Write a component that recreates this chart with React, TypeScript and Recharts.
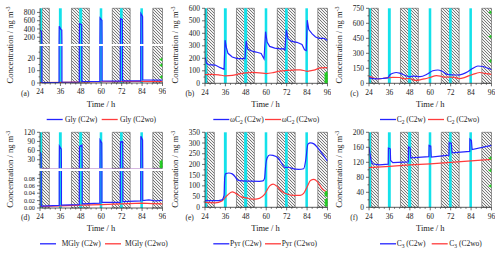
import React from 'react';
import { ComposedChart, Line, XAxis, YAxis, ReferenceArea, Scatter } from 'recharts';

type Pt = [number, number];

// ---------- data ----------
const X_TICKS = [24, 27, 30, 33, 36, 39, 42, 45, 48, 51, 54, 57, 60, 63, 66, 69, 72, 75, 78, 81, 84, 87, 90, 93, 96];
const X_MAJOR = [24, 36, 48, 60, 72, 84, 96];
const NIGHT: Pt[] = [[25.2, 29.5], [42.5, 53], [66.5, 77], [90.3, 96]];
const LIGHT: Pt[] = [[24, 25.2], [35.1, 36.8], [47, 48.8], [59.1, 60.6], [71, 72.6], [83, 84.5]];

const GLY_C2W: Pt[] = [[24, 370], [24.9, 340], [25.1, 0.4], [35.2, 0.5], [35.3, 465], [36.3, 385], [36.8, 375], [36.9, 0.6], [47.1, 0.8], [47.2, 530], [48.5, 505], [48.6, 1.2], [59.2, 1.3], [59.3, 665], [60.4, 605], [60.5, 1.6], [71.2, 1.5], [71.3, 650], [72.4, 625], [72.5, 1.8], [83.2, 1.8], [83.3, 775], [84.3, 700], [84.4, 2.6], [96, 2.4]];
const GLY_C2WO: Pt[] = [[24, 0.3], [36, 0.5], [48, 0.8], [60, 1.0], [72, 1.2], [84, 1.3], [96, 1.2]];

const WC2_C2W: Pt[] = [[24, 208], [25, 160], [26, 150], [30, 146], [33, 125], [35.2, 112], [35.8, 345], [36.5, 290], [37.5, 240], [40, 210], [43, 198], [47.5, 197], [48.2, 340], [49, 275], [51, 260], [54, 250], [57, 238], [58.7, 195], [59.6, 413], [60.5, 330], [62, 295], [65, 282], [68, 276], [70, 278], [71, 267], [71.8, 428], [72.8, 355], [75, 335], [78, 328], [81, 310], [82.5, 268], [83.5, 262], [84.1, 505], [85, 430], [87, 395], [89, 370], [91, 360], [94, 360], [96, 342]];
const WC2_C2WO: Pt[] = [[24, 70], [28, 72], [32, 68], [36, 60], [40, 63], [44, 75], [48, 83], [52, 87], [56, 84], [60, 78], [64, 85], [68, 98], [72, 103], [76, 106], [80, 108], [84, 96], [88, 105], [92, 123], [96, 125]];

const C2_C2W: Pt[] = [[24, 55], [28, 45], [32, 48], [35, 55], [36.5, 88], [38, 100], [40, 108], [42, 102], [45, 80], [48, 65], [50, 72], [54, 67], [58, 90], [61.5, 125], [64.5, 133], [67, 120], [70, 90], [73, 85], [76, 83], [79, 92], [82, 115], [85, 150], [88, 173], [91, 168], [94, 150], [96, 135]];
const C2_C2WO: Pt[] = [[24, 72], [26, 55], [30, 45], [34, 55], [38, 60], [42, 58], [45, 45], [48, 48], [51, 30], [54, 35], [56.7, 45], [60, 60], [63.6, 77], [66, 72], [68, 62], [71, 63], [74, 60], [77, 47], [80, 57], [83, 77], [87, 100], [89, 108], [92, 100], [96, 90]];

const MGLY_C2W: Pt[] = [[24, 55], [24.6, 50], [24.7, 0.005], [35.3, 0.007], [35.4, 75], [36.5, 65], [36.6, 0.008], [47.1, 0.009], [47.2, 73], [48.7, 78], [48.8, 0.011], [59.2, 0.013], [59.3, 95], [60.3, 85], [60.4, 0.015], [71.2, 0.015], [71.3, 88], [72.6, 90], [72.7, 0.017], [83.2, 0.019], [83.3, 107], [84.3, 95], [84.4, 0.02], [88, 0.022], [92, 0.019], [96, 0.021]];
const MGLY_C2WO: Pt[] = [[24, 0.004], [36, 0.006], [48, 0.008], [60, 0.009], [72, 0.011], [84, 0.013], [90, 0.012], [96, 0.011]];

const PYR_C2W: Pt[] = [[24, 31], [30, 31], [34, 35], [35.2, 55], [35.6, 140], [36.2, 157], [38, 160], [40, 156], [42, 140], [43, 128], [46, 123], [50, 122], [56, 121], [58, 123], [59, 135], [59.6, 190], [60.5, 230], [62, 244], [64, 242], [67, 230], [69.5, 200], [71, 186], [73, 187], [75, 182], [79, 177], [82, 180], [83.2, 220], [84.5, 295], [86, 301], [88, 296], [90, 280], [92, 260], [96, 215]];
const PYR_C2WO: Pt[] = [[24, 23], [30, 21], [34, 30], [37, 55], [40, 72], [42, 65], [45, 50], [48, 44], [52, 38], [56, 42], [59, 60], [62, 100], [64, 108], [66, 100], [69, 75], [72, 62], [76, 56], [80, 56], [82, 65], [84, 95], [86, 125], [88, 130], [90, 120], [93, 85], [96, 70]];

const C3_C2W: Pt[] = [[24, 160], [24.5, 145], [25.2, 125], [26, 116], [30, 113], [35.3, 115], [35.4, 158], [36.5, 156], [36.7, 125], [38, 119], [47.1, 121], [47.2, 161], [48.2, 158], [48.5, 132], [59.2, 135], [59.3, 165], [60.3, 163], [60.6, 134], [71, 139], [71.1, 172], [72.4, 171], [72.8, 145], [83.2, 149], [83.3, 182], [84.2, 178], [84.6, 154], [96, 165]];
const C3_C2WO: Pt[] = [[24, 106], [36, 109], [48, 113], [60, 116], [72, 120], [84, 124], [96, 128]];

const OBS_A = [4.9, 14.3, 19];
const OBS_B = [5, 12, 19, 26, 33, 40, 47, 54, 61, 68, 75, 80];
const OBS_C = [223, 467, 710];
const OBS_D = [4, 8, 12, 16, 20, 24];
const OBS_E = [10, 15, 20, 25, 30, 35, 55, 60, 65, 70];
const OBS_F = [57, 98, 131];

// legend labels: [prefix, subscript, suffix]
const LEGENDS: [string, string, string][][] = [
  [['Gly (C2w)', '', ''], ['Gly (C2wo)', '', '']],
  [['ωC', '2', ' (C2w)'], ['ωC', '2', ' (C2wo)']],
  [['C', '2', ' (C2w)'], ['C', '2', ' (C2wo)']],
  [['MGly (C2w)', '', ''], ['MGly (C2wo)', '', '']],
  [['Pyr (C2w)', '', ''], ['Pyr (C2wo)', '', '']],
  [['C', '3', ' (C2w)'], ['C', '3', ' (C2wo)']],
];
const TAGS = ['(a)', '(b)', '(c)', '(d)', '(e)', '(f)'];

// ---------- style ----------
const FONT = '"Liberation Serif", "Times New Roman", serif';
const BLUE = '#2424ff';
const RED = '#ff3c3c';
const CYAN = '#14e1ea';
const GREEN = '#22cc22';
const AX = '#333';
const XM = 6;
const YM = 5;
// legend layout offsets relative to panel left: [blueLine, blueText, redLine, redText]
const LEG_POS = [
  [46.7, 65, 101.7, 120],
  [48.8, 65.5, 100.5, 117.2],
  [50.7, 67.4, 98.7, 117.4],
  [40, 61.7, 105, 125],
  [48.8, 65.5, 100.5, 117.2],
  [50.7, 67.4, 102.4, 120],
];

const toXY = (pts: Pt[]) => pts.map(([x, y]) => ({ x, y }));

const XTick = (p: any) => {
  const v = p.payload.value;
  const maj = X_MAJOR.includes(v);
  const ay = p.y - XM;
  return (
    <g>
      <line x1={p.x} x2={p.x} y1={ay} y2={ay + (maj ? 3 : 1.5)} stroke={AX} strokeWidth={0.7} />
      {maj && (
        <text x={p.x} y={p.y} dy="0.71em" textAnchor="middle" fontSize={7.5} fontFamily={FONT} fill="#222">
          {v}
        </text>
      )}
    </g>
  );
};

const YTick = (p: any) => {
  const v = p.payload.value;
  const maj = p.major.includes(v);
  const ax = p.x + YM;
  return (
    <g>
      <line x1={ax} x2={ax - (maj ? 3 : 1.5)} y1={p.y} y2={p.y} stroke={AX} strokeWidth={0.7} />
      {maj && (
        <text x={p.x} y={p.y} dy="0.35em" textAnchor="end" fontSize={p.fs || 7.5} fontFamily={FONT} fill="#222">
          {p.fmt ? p.fmt(v) : v}
        </text>
      )}
    </g>
  );
};

const Tri = (p: any) => {
  const { cx, cy } = p;
  return <polygon points={`${cx - 3.3},${cy} ${cx},${cy - 2} ${cx},${cy + 2}`} fill={GREEN} />;
};

type S = { pts: Pt[]; color: string; smooth?: boolean };

function Chart(props: any) {
  const { left, top, height, mTop, domain, major, minor, fmt, fs, showX, series, greens, uid } = props;
  const ticks = [...major, ...minor].sort((a: number, b: number) => a - b);
  return (
    <div style={{ position: 'absolute', left, top }}>
      <ComposedChart width={166} height={height} margin={{ top: mTop, right: 3.5, bottom: 0, left: 0 }}>
        <defs>
          <pattern id={uid} patternUnits="userSpaceOnUse" width="3" height="3">
            <rect width="3" height="3" fill="#f2f2f2" />
            <path d="M0,0 L3,3 M-1,2 L1,4 M2,-1 L4,1" stroke="#444" strokeWidth="0.7" />
          </pattern>
        </defs>
        <XAxis
          type="number"
          dataKey="x"
          domain={[24, 96]}
          ticks={X_TICKS}
          interval={0}
          hide={!showX}
          height={17}
          tickLine={false}
          tickSize={0}
          tickMargin={XM}
          tick={(p: any) => <XTick {...p} />}
          axisLine={{ stroke: AX, strokeWidth: 0.8 }}
          allowDataOverflow
        />
        <YAxis
          type="number"
          domain={domain}
          ticks={ticks}
          interval={0}
          width={40}
          tickLine={false}
          tickSize={0}
          tickMargin={YM}
          tick={(p: any) => <YTick {...p} major={major} fmt={fmt} fs={fs} />}
          axisLine={{ stroke: AX, strokeWidth: 0.8 }}
          allowDataOverflow
        />
        {NIGHT.map(([a, b], i) => (
          <ReferenceArea key={'n' + i} x1={a} x2={b} fill={`url(#${uid})`} fillOpacity={1} stroke="#555" strokeWidth={0.6} />
        ))}
        {LIGHT.map(([a, b], i) => (
          <ReferenceArea key={'c' + i} x1={a} x2={b} fill={CYAN} fillOpacity={1} stroke="none" />
        ))}
        {series.map((s: S, i: number) => (
          <Line
            key={i}
            data={toXY(s.pts)}
            dataKey="y"
            stroke={s.color}
            strokeWidth={1.2}
            dot={false}
            type={s.smooth ? 'monotone' : 'linear'}
            isAnimationActive={false}
          />
        ))}
        {greens && (
          <Scatter data={greens.map((v: number) => ({ x: 96, y: v }))} dataKey="y" fill={GREEN} shape={Tri} isAnimationActive={false} />
        )}
      </ComposedChart>
    </div>
  );
}

const COLS = [0, 164.5, 329.3];
const ROWS = [0, 124.3];
const NORMAL_H = 83.3 + 17;

const range = (a: number, b: number, s: number) => {
  const r: number[] = [];
  for (let v = a; v <= b + 1e-9; v += s) r.push(Math.round(v * 1000) / 1000);
  return r;
};

const LegText = ({ x, y, lab }: any) => (
  <text x={x} y={y} fontSize={7.5} dy="0.33em">
    {lab[0]}
    {lab[1] && (
      <>
        <tspan dy={1.6} fontSize={5.5}>{lab[1]}</tspan>
        <tspan dy={-1.6}>{lab[2]}</tspan>
      </>
    )}
  </text>
);

export default function App() {
  return (
    <div style={{ position: 'absolute', left: 0, top: 0, width: 500, height: 254, background: '#fff', overflow: 'hidden' }}>
      <svg width={500} height={254} style={{ position: 'absolute', left: 0, top: 0 }}>
        {ROWS.map((R, ri) =>
          COLS.map((L, ci) => {
            const k = ri * 3 + ci;
            const pos = LEG_POS[k];
            const ly = R + 119.5;
            return (
              <g key={k} fontFamily={FONT} fill="#222">
                <text transform={`translate(${L + 13},${R + 45}) rotate(-90)`} textAnchor="middle" fontSize={8.5}>
                  Concentration / ng m<tspan dy={-3} fontSize={6}>-3</tspan>
                </text>
                <text x={L + 21} y={R + 96} fontSize={7.5}>
                  {TAGS[k]}
                </text>
                <text x={L + 101} y={R + 107} textAnchor="middle" fontSize={8.5}>
                  Time / h
                </text>
                <line x1={L + pos[0]} x2={L + pos[0] + 16} y1={ly} y2={ly} stroke={BLUE} strokeWidth={1.3} />
                <LegText x={L + pos[1]} y={ly} lab={LEGENDS[k][0]} />
                <line x1={L + pos[2]} x2={L + pos[2] + 16} y1={ly} y2={ly} stroke={RED} strokeWidth={1.3} />
                <LegText x={L + pos[3]} y={ly} lab={LEGENDS[k][1]} />
              </g>
            );
          })
        )}
      </svg>

      {/* (a) Gly - broken axis */}
      <Chart
        uid="ha1" left={COLS[0]} top={ROWS[0]} height={44.3} mTop={8.3} domain={[30, 900]}
        major={[200, 400, 600, 800]} minor={[100, 300, 500, 700]} showX={false}
        series={[{ pts: GLY_C2WO, color: RED }, { pts: GLY_C2W, color: BLUE }]}
      />
      <Chart
        uid="ha2" left={COLS[0]} top={ROWS[0] + 46.3} height={37 + 17} mTop={0} domain={[0, 30]}
        major={[0, 10, 20]} minor={[5, 15, 25]} showX
        series={[{ pts: GLY_C2WO, color: RED }, { pts: GLY_C2W, color: BLUE }]} greens={OBS_A}
      />
      {/* (b) wC2 */}
      <Chart
        uid="hb" left={COLS[1]} top={ROWS[0]} height={NORMAL_H} mTop={8.3} domain={[0, 600]}
        major={range(0, 600, 100)} minor={range(50, 550, 100)} showX
        series={[{ pts: WC2_C2WO, color: RED, smooth: true }, { pts: WC2_C2W, color: BLUE }]} greens={OBS_B}
      />
      {/* (c) C2 */}
      <Chart
        uid="hc" left={COLS[2]} top={ROWS[0]} height={NORMAL_H} mTop={8.3} domain={[0, 750]}
        major={range(0, 750, 150)} minor={range(75, 675, 150)} showX
        series={[{ pts: C2_C2WO, color: RED, smooth: true }, { pts: C2_C2W, color: BLUE, smooth: true }]} greens={OBS_C}
      />
      {/* (d) MGly - broken axis */}
      <Chart
        uid="hd1" left={COLS[0]} top={ROWS[1]} height={44.3} mTop={8.3} domain={[2, 120]}
        major={[30, 60, 90, 120]} minor={[15, 45, 75, 105]} showX={false}
        series={[{ pts: MGLY_C2WO, color: RED }, { pts: MGLY_C2W, color: BLUE }]} greens={OBS_D}
      />
      <Chart
        uid="hd2" left={COLS[0]} top={ROWS[1] + 46.3} height={37 + 17} mTop={0} domain={[0, 0.1]}
        major={[0, 0.02, 0.04, 0.06, 0.08]} minor={[0.01, 0.03, 0.05, 0.07, 0.09]} fmt={(v: number) => v.toFixed(2)} fs={6.3} showX
        series={[{ pts: MGLY_C2WO, color: RED }, { pts: MGLY_C2W, color: BLUE }]}
      />
      {/* (e) Pyr */}
      <Chart
        uid="he" left={COLS[1]} top={ROWS[1]} height={NORMAL_H} mTop={8.3} domain={[0, 350]}
        major={range(0, 350, 50)} minor={range(25, 325, 50)} showX
        series={[{ pts: PYR_C2WO, color: RED, smooth: true }, { pts: PYR_C2W, color: BLUE, smooth: true }]} greens={OBS_E}
      />
      {/* (f) C3 */}
      <Chart
        uid="hf" left={COLS[2]} top={ROWS[1]} height={NORMAL_H} mTop={8.3} domain={[0, 200]}
        major={range(0, 200, 40)} minor={range(20, 180, 40)} showX
        series={[{ pts: C3_C2WO, color: RED }, { pts: C3_C2W, color: BLUE }]} greens={OBS_F}
      />
    </div>
  );
}
